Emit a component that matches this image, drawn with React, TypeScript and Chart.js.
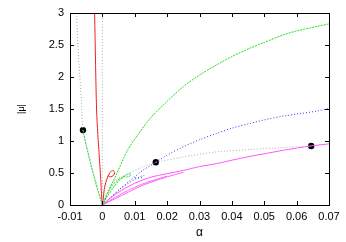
import React, { useEffect, useRef } from "react";
import { Chart, registerables } from "chart.js";

Chart.register(...registerables);

const xTicks = [-0.01, 0, 0.01, 0.02, 0.03, 0.04, 0.05, 0.06, 0.07];
const xTickLabels = ["-0.01", "0", "0.01", "0.02", "0.03", "0.04", "0.05", "0.06", "0.07"];
const yTicks = [0, 0.5, 1, 1.5, 2, 2.5, 3];
const yTickLabels = ["0", "0.5", "1", "1.5", "2", "2.5", "3"];

const grayLeftX = [-0.008, -0.0073, -0.0065, -0.006, -0.0052, -0.0044, -0.0034, -0.0022, -0.001, 0];
const grayLeftY = [3.0, 2.27, 1.64, 1.17, 0.98, 0.84, 0.62, 0.4, 0.18, 0];

const greenLeftX = [-0.006, -0.005, -0.0039, -0.0028, -0.0016, 0];
const greenLeftY = [1.17, 0.93, 0.7, 0.48, 0.26, 0];

const redX = [-0.0024, -0.0021, -0.0018, -0.0014, -0.001, -0.0005, 0, 0.0007, 0.0015, 0.0024, 0.0033, 0.0038, 0.0034, 0.0025, 0.0017];
const redY = [3.0, 2.2, 1.5, 1.1, 0.8, 0.4, 0, 0.28, 0.42, 0.51, 0.54, 0.51, 0.46, 0.44, 0.46];

const greenMainX = [0, 0.002, 0.0039, 0.0078, 0.011, 0.0147, 0.02, 0.025, 0.03, 0.0353, 0.04, 0.0456, 0.05, 0.056, 0.06, 0.0663, 0.07];
const greenMainY = [0, 0.23, 0.43, 0.86, 1.1, 1.35, 1.62, 1.85, 2.03, 2.19, 2.32, 2.45, 2.54, 2.66, 2.72, 2.79, 2.83];

const greenLoopX = [0, 0.0015, 0.003, 0.0045, 0.006, 0.0075, 0.0085, 0.0088, 0.008, 0.0068, 0.0055, 0.0035, 0.0015, 0];
const greenLoopY = [0, 0.17, 0.3, 0.38, 0.43, 0.47, 0.49, 0.47, 0.44, 0.44, 0.4, 0.28, 0.13, 0];

const grayMidX = [0, 0.0015, 0.0028, 0.005, 0.008, 0.012, 0.0165];
const grayMidY = [0, 0.2, 0.33, 0.42, 0.49, 0.59, 0.667];

const grayRightX = [0.0165, 0.025, 0.0353, 0.0456, 0.056, 0.0645];
const grayRightY = [0.667, 0.75, 0.83, 0.867, 0.898, 0.923];

const grayZeroX = [0, 0];
const grayZeroY = [0, 3];

const blueMainX = [0, 0.002, 0.005, 0.009, 0.0125, 0.0165, 0.02, 0.025, 0.03, 0.0353, 0.04, 0.0456, 0.05, 0.056, 0.0663, 0.07];
const blueMainY = [0, 0.09, 0.23, 0.4, 0.54, 0.667, 0.78, 0.91, 1.02, 1.118, 1.2, 1.275, 1.33, 1.39, 1.468, 1.51];

const blueLoopX = [0, 0.003, 0.006, 0.009, 0.0115, 0.0128, 0.0122, 0.0108, 0.0095];
const blueLoopY = [0, 0.14, 0.27, 0.37, 0.44, 0.46, 0.43, 0.42, 0.43];

const magentaUpperX = [0, 0.003, 0.006, 0.01, 0.0147, 0.02, 0.025, 0.03, 0.0353, 0.04, 0.0456, 0.05, 0.056, 0.0645, 0.07];
const magentaUpperY = [0, 0.13, 0.23, 0.34, 0.43, 0.49, 0.54, 0.6, 0.647, 0.7, 0.76, 0.8, 0.856, 0.923, 0.955];

const magentaMidX = [0, 0.004, 0.008, 0.012, 0.016, 0.02];
const magentaMidY = [0, 0.12, 0.23, 0.32, 0.39, 0.45];

const magentaLowerX = [0, 0.004, 0.008, 0.0116, 0.0147, 0.02, 0.025];
const magentaLowerY = [0, 0.1, 0.2, 0.29, 0.35, 0.44, 0.51];

const dotX = [-0.006, 0.0165, 0.0645];
const dotY = [1.17, 0.667, 0.923];

const pts = (xs: number[], ys: number[]) => xs.map((x, i) => ({ x, y: ys[i] }));

const line = (xs: number[], ys: number[], color: string, dash: number[], mono: boolean) => ({
  data: pts(xs, ys),
  showLine: true,
  borderColor: color,
  borderWidth: 1,
  borderDash: dash,
  pointRadius: 0,
  fill: false,
  cubicInterpolationMode: mono ? "monotone" : "default",
  tension: mono ? 0 : 0.3,
});

const framePlugin = {
  id: "frame",
  afterDatasetsDraw(chart: any) {
    const { ctx, chartArea: a, scales } = chart;
    ctx.save();
    ctx.strokeStyle = "#000";
    ctx.lineWidth = 1;
    ctx.beginPath();
    const L = 4;
    xTicks.forEach((v) => {
      const px = Math.round(scales.x.getPixelForValue(v)) + 0.5;
      ctx.moveTo(px, a.bottom);
      ctx.lineTo(px, a.bottom - L);
      ctx.moveTo(px, a.top);
      ctx.lineTo(px, a.top + L);
    });
    yTicks.forEach((v) => {
      const py = Math.round(scales.y.getPixelForValue(v)) + 0.5;
      ctx.moveTo(a.left, py);
      ctx.lineTo(a.left + L, py);
      ctx.moveTo(a.right, py);
      ctx.lineTo(a.right - L, py);
    });
    ctx.stroke();
    ctx.strokeRect(Math.round(a.left) + 0.5, Math.round(a.top) + 0.5, Math.round(a.right - a.left), Math.round(a.bottom - a.top));
    ctx.restore();
  },
};

export default function App() {
  const ref = useRef<HTMLCanvasElement>(null);
  useEffect(() => {
    const font = { family: "'Liberation Sans', Arial, sans-serif", size: 11 };
    const chart = new Chart(ref.current as HTMLCanvasElement, {
      type: "scatter",
      data: {
        datasets: [
          line(grayZeroX, grayZeroY, "#b0b0b0", [1, 2], false),
          line(grayLeftX, grayLeftY, "#a8a8a8", [1, 2], false),
          line(grayMidX, grayMidY, "#b0b0b0", [1, 2], false),
          line(grayRightX, grayRightY, "#b0b0b0", [1, 2], false),
          line(magentaLowerX, magentaLowerY, "#ff66ff", [], false),
          line(magentaMidX, magentaMidY, "#ff66ff", [], false),
          line(magentaUpperX, magentaUpperY, "#ff55ff", [], false),
          line(blueLoopX, blueLoopY, "#4444ff", [1, 2], false),
          line(blueMainX, blueMainY, "#3333ff", [1, 2], false),
          line(greenLoopX, greenLoopY, "#22dd22", [2, 1], false),
          line(greenLeftX, greenLeftY, "#22dd22", [2, 1], false),
          line(greenMainX, greenMainY, "#22dd22", [2, 1], false),
          line(redX, redY, "#ee2222", [], false),
          {
            data: pts(dotX, dotY),
            showLine: false,
            pointRadius: 3.2,
            pointBackgroundColor: "#000",
            pointBorderColor: "#000",
            borderWidth: 0,
          },
        ] as any,
      },
      options: {
        animation: false,
        responsive: false,
        events: [],
        layout: { padding: { top: 13, right: 17, left: 0, bottom: 0 } },
        plugins: { legend: { display: false }, tooltip: { enabled: false } },
        scales: {
          x: {
            type: "linear",
            min: -0.01,
            max: 0.07,
            afterFit: (s: any) => { s.height = 37; },
            afterBuildTicks: (s: any) => { s.ticks = xTicks.map((v) => ({ value: v })); },
            grid: { display: false, drawTicks: false },
            border: { display: false },
            ticks: {
              padding: 5,
              color: "#000",
              font,
              maxRotation: 0,
              autoSkip: false,
              callback: (v: any) => xTickLabels[xTicks.findIndex((t) => Math.abs(t - v) < 1e-9)] ?? "",
            },
            title: { display: true, text: "α", color: "#000", font: { ...font, size: 12 }, padding: { top: 0, bottom: 2 } },
          },
          y: {
            type: "linear",
            min: 0,
            max: 3,
            afterFit: (s: any) => { s.width = 70; },
            afterBuildTicks: (s: any) => { s.ticks = yTicks.map((v) => ({ value: v })); },
            grid: { display: false, drawTicks: false },
            border: { display: false },
            ticks: {
              padding: 6,
              color: "#000",
              font,
              autoSkip: false,
              callback: (v: any) => yTickLabels[yTicks.findIndex((t) => Math.abs(t - v) < 1e-9)] ?? "",
            },
            title: { display: true, text: "|μ|", color: "#000", font: { ...font, size: 9 }, padding: { top: 16, bottom: 0 } },
          },
        },
      },
      plugins: [framePlugin],
    } as any);
    return () => chart.destroy();
  }, []);
  return (
    <div style={{ position: "absolute", left: 0, top: 0, width: 346, height: 242, background: "#fff" }}>
      <canvas ref={ref} width={346} height={242} />
    </div>
  );
}
